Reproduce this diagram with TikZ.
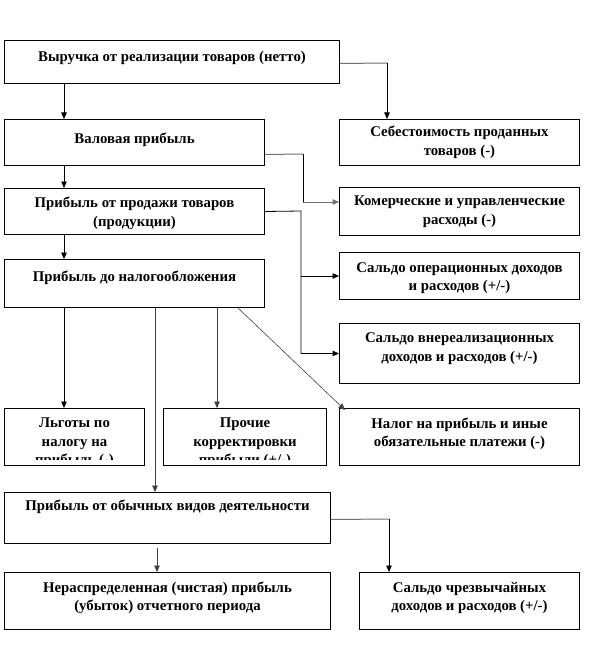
\documentclass[tikz,border=0pt]{standalone}
\usepackage{fontspec}
\setmainfont{Liberation Serif}
\usetikzlibrary{arrows.meta}
\definecolor{lgray}{HTML}{707070}
\begin{document}
\begin{tikzpicture}[x=1pt,y=-1pt,
  box/.style={draw=black, line width=1pt, rectangle, inner sep=0pt, anchor=north west},
  txt/.style={font=\bfseries\fontsize{14.8}{18.5}\selectfont, align=center, inner sep=0pt},
  tip/.style={-{Triangle[length=6.5pt,width=5.5pt]}},
  con/.style={line width=0.8pt, black, tip},
  gcon/.style={line width=1pt, lgray},
  thinline/.style={line width=0.6pt, black!75}]
\useasboundingbox[fill=white] (0,0) rectangle (603,655);

% boxes
\node[box,minimum width=335pt,minimum height=43pt] (b1) at (4,40) {};
\node[box,minimum width=260pt,minimum height=46pt] (b2) at (4,119) {};
\node[box,minimum width=240pt,minimum height=46pt] (s1) at (339,119) {};
\node[box,minimum width=260pt,minimum height=46pt] (b3) at (4,188) {};
\node[box,minimum width=240pt,minimum height=48pt] (s2) at (339,187) {};
\node[box,minimum width=260pt,minimum height=48pt] (b4) at (4,259) {};
\node[box,minimum width=240pt,minimum height=47pt] (s3) at (339,252) {};
\node[box,minimum width=240pt,minimum height=60pt] (s4) at (339,323) {};
\node[box,minimum width=140pt,minimum height=57pt] (l1) at (4,408) {};
\node[box,minimum width=163pt,minimum height=57pt] (l2) at (163,408) {};
\node[box,minimum width=240pt,minimum height=57pt] (s5) at (339,408) {};
\node[box,minimum width=326pt,minimum height=51pt] (b5) at (4,492) {};
\node[box,minimum width=326pt,minimum height=57pt] (b6) at (4,572) {};
\node[box,minimum width=220pt,minimum height=57pt] (s6) at (359,572) {};

% texts
\node[txt] (t1) at ([yshift=4.5pt]b1.center) {Выручка от реализации товаров (нетто)};
\node[txt] (t2) at ([yshift=3pt]b2.center) {Валовая прибыль};
\node[txt] (t3) at (s1.center) {Себестоимость проданных\\товаров (-)};
\node[txt] (t4) at ([yshift=-2pt]b3.center) {Прибыль от продажи товаров\\(продукции)};
\node[txt] (t5) at (s2.center) {Комерческие и управленческие\\расходы (-)};
\node[txt] (t6) at ([yshift=6pt]b4.center) {Прибыль до налогообложения};
\node[txt] (t7) at ([yshift=-2pt]s3.center) {Сальдо операционных доходов\\и расходов (+/-)};
\node[txt] (t8) at ([yshift=5pt]s4.center) {Сальдо внереализационных\\доходов и расходов (+/-)};
\begin{scope}
  \clip ([yshift=-1pt]l1.north west) rectangle ([yshift=6.5pt]l1.south east);
  \node[txt,anchor=north] (t9) at ([yshift=-10pt]l1.north) {Льготы по\\налогу на\\прибыль (-)};
\end{scope}
\begin{scope}
  \clip ([yshift=-1pt]l2.north west) rectangle ([yshift=6.5pt]l2.south east);
  \node[txt,anchor=north] (t10) at ([yshift=-10pt]l2.north) {Прочие\\корректировки\\прибыли (+/-)};
\end{scope}
\node[txt] (t11) at ([yshift=3pt]s5.center) {Налог на прибыль и иные\\обязательные платежи (-)};
\node[txt] (t12) at ([yshift=11pt]b5.center) {Прибыль от обычных видов деятельности};
\node[txt] (t13) at ([yshift=3pt]b6.center) {Нераспределенная (чистая) прибыль\\(убыток) отчетного периода};
\node[txt] (t14) at ([yshift=3pt]s6.center) {Сальдо чрезвычайных\\доходов и расходов (+/-)};

% connectors
\draw[con] ([xshift=60pt]b1.south west) -- ([xshift=60pt]b2.north west);
\coordinate (k1) at (387,63);
\draw[gcon] ([yshift=-1.5pt]b1.east) -- (k1);
\draw[con] (k1) -- ([xshift=48pt]s1.north west);

\draw[con] ([xshift=60pt]b2.south west) -- ([xshift=60pt]b3.north west);
\coordinate (k2a) at (303,154);
\coordinate (k2b) at (303,202);
\draw[gcon] ([yshift=-12pt]b2.east) -- (k2a);
\draw[line width=0.8pt] (k2a) -- (k2b);
\draw[gcon,tip] (k2b) -- (k2b -| s2.west);

\draw[con] ([xshift=60pt]b3.south west) -- ([xshift=60pt]b4.north west);
\coordinate (k3) at (301,211);
\draw[con] (b3.east) -- (k3) |- (s4.west);
\draw[con] (k3 |- s3.west) -- (s3.west);

\draw[con] ([xshift=60pt]b4.south west) -- ([xshift=60pt]l1.north west);
\draw[thinline,tip] ([xshift=151pt]b4.south west) -- ([xshift=151pt]b5.north west);
\draw[thinline,tip] ([xshift=213pt]b4.south west) -- ([xshift=54pt]l2.north west);
\draw[thinline,tip] ([xshift=234pt]b4.south west) -- ([xshift=6pt,yshift=-2pt]s5.north west);

\draw[thinline,tip] ([xshift=153pt,yshift=-4pt]b5.south west) -- ([xshift=153pt]b6.north west);
\coordinate (k4) at (389,519);
\draw[gcon] ([yshift=-1.5pt]b5.east) -- (k4);
\draw[con] (k4) -- ([xshift=30pt]s6.north west);
\end{tikzpicture}
\end{document}
